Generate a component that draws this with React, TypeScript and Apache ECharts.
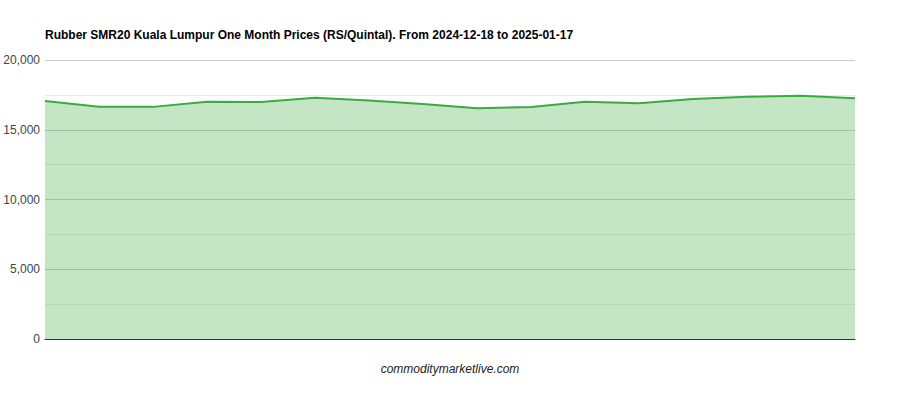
import React, { useEffect, useRef } from "react";
import * as echarts from "echarts";

const dates = [
  "2024-12-18", "2024-12-19", "2024-12-20", "2024-12-23", "2024-12-24", "2024-12-26",
  "2024-12-27", "2024-12-30", "2024-12-31", "2025-01-02", "2025-01-03", "2025-01-06",
  "2025-01-08", "2025-01-10", "2025-01-14", "2025-01-17",
];
const prices = [
  17060, 16650, 16640, 17010, 16990, 17300, 17100, 16850,
  16540, 16630, 17010, 16900, 17200, 17370, 17440, 17250,
];
const yTicks = [0, 5000, 10000, 15000, 20000];

const titleText = "Rubber SMR20 Kuala Lumpur One Month Prices (RS/Quintal). From 2024-12-18 to 2025-01-17";
const footerText = "commoditymarketlive.com";

export default function App() {
  const ref = useRef<HTMLDivElement>(null);
  useEffect(() => {
    if (!ref.current) return;
    const chart = echarts.init(ref.current, undefined, { renderer: "svg" });
    chart.setOption({
      animation: false,
      backgroundColor: "#ffffff",
      title: {
        text: titleText,
        left: 40,
        top: 24,
        textStyle: {
          fontFamily: "Liberation Sans, Arial, sans-serif",
          fontSize: 12,
          fontWeight: "bold",
          color: "#000000",
        },
      },
      graphic: [
        {
          type: "text",
          left: "center",
          top: 363,
          style: {
            text: footerText,
            font: "italic 12px 'Liberation Sans', Arial, sans-serif",
            fill: "#222222",
          },
        },
      ],
      grid: { left: 45, right: 45, top: 60, bottom: 61, containLabel: false },
      xAxis: {
        type: "category",
        data: dates,
        boundaryGap: false,
        z: 5,
        axisLine: { show: true, lineStyle: { color: "#333333", width: 1 } },
        axisTick: { show: false },
        axisLabel: { show: false },
        splitLine: { show: false },
      },
      yAxis: {
        type: "value",
        min: yTicks[0],
        max: yTicks[yTicks.length - 1],
        interval: 5000,
        axisLine: { show: false },
        axisTick: { show: false },
        axisLabel: {
          fontFamily: "Liberation Sans, Arial, sans-serif",
          fontSize: 12,
          color: "#444444",
          margin: 5,
          formatter: (v: number) => v.toLocaleString("en-US"),
        },
        splitLine: { show: true, lineStyle: { color: "#cccccc", width: 1 } },
        minorTick: { show: false, splitNumber: 2 },
        minorSplitLine: { show: true, lineStyle: { color: "#ebebeb", width: 1 } },
      },
      series: [
        {
          type: "line",
          data: prices,
          symbol: "none",
          lineStyle: { color: "#3aab40", width: 2 },
          areaStyle: { color: "#3aab40", opacity: 0.3 },
          itemStyle: { color: "#3aab40" },
        },
      ],
    });
    return () => chart.dispose();
  }, []);
  return (
    <div
      ref={ref}
      style={{ position: "absolute", left: 0, top: 0, width: 900, height: 400 }}
    />
  );
}
